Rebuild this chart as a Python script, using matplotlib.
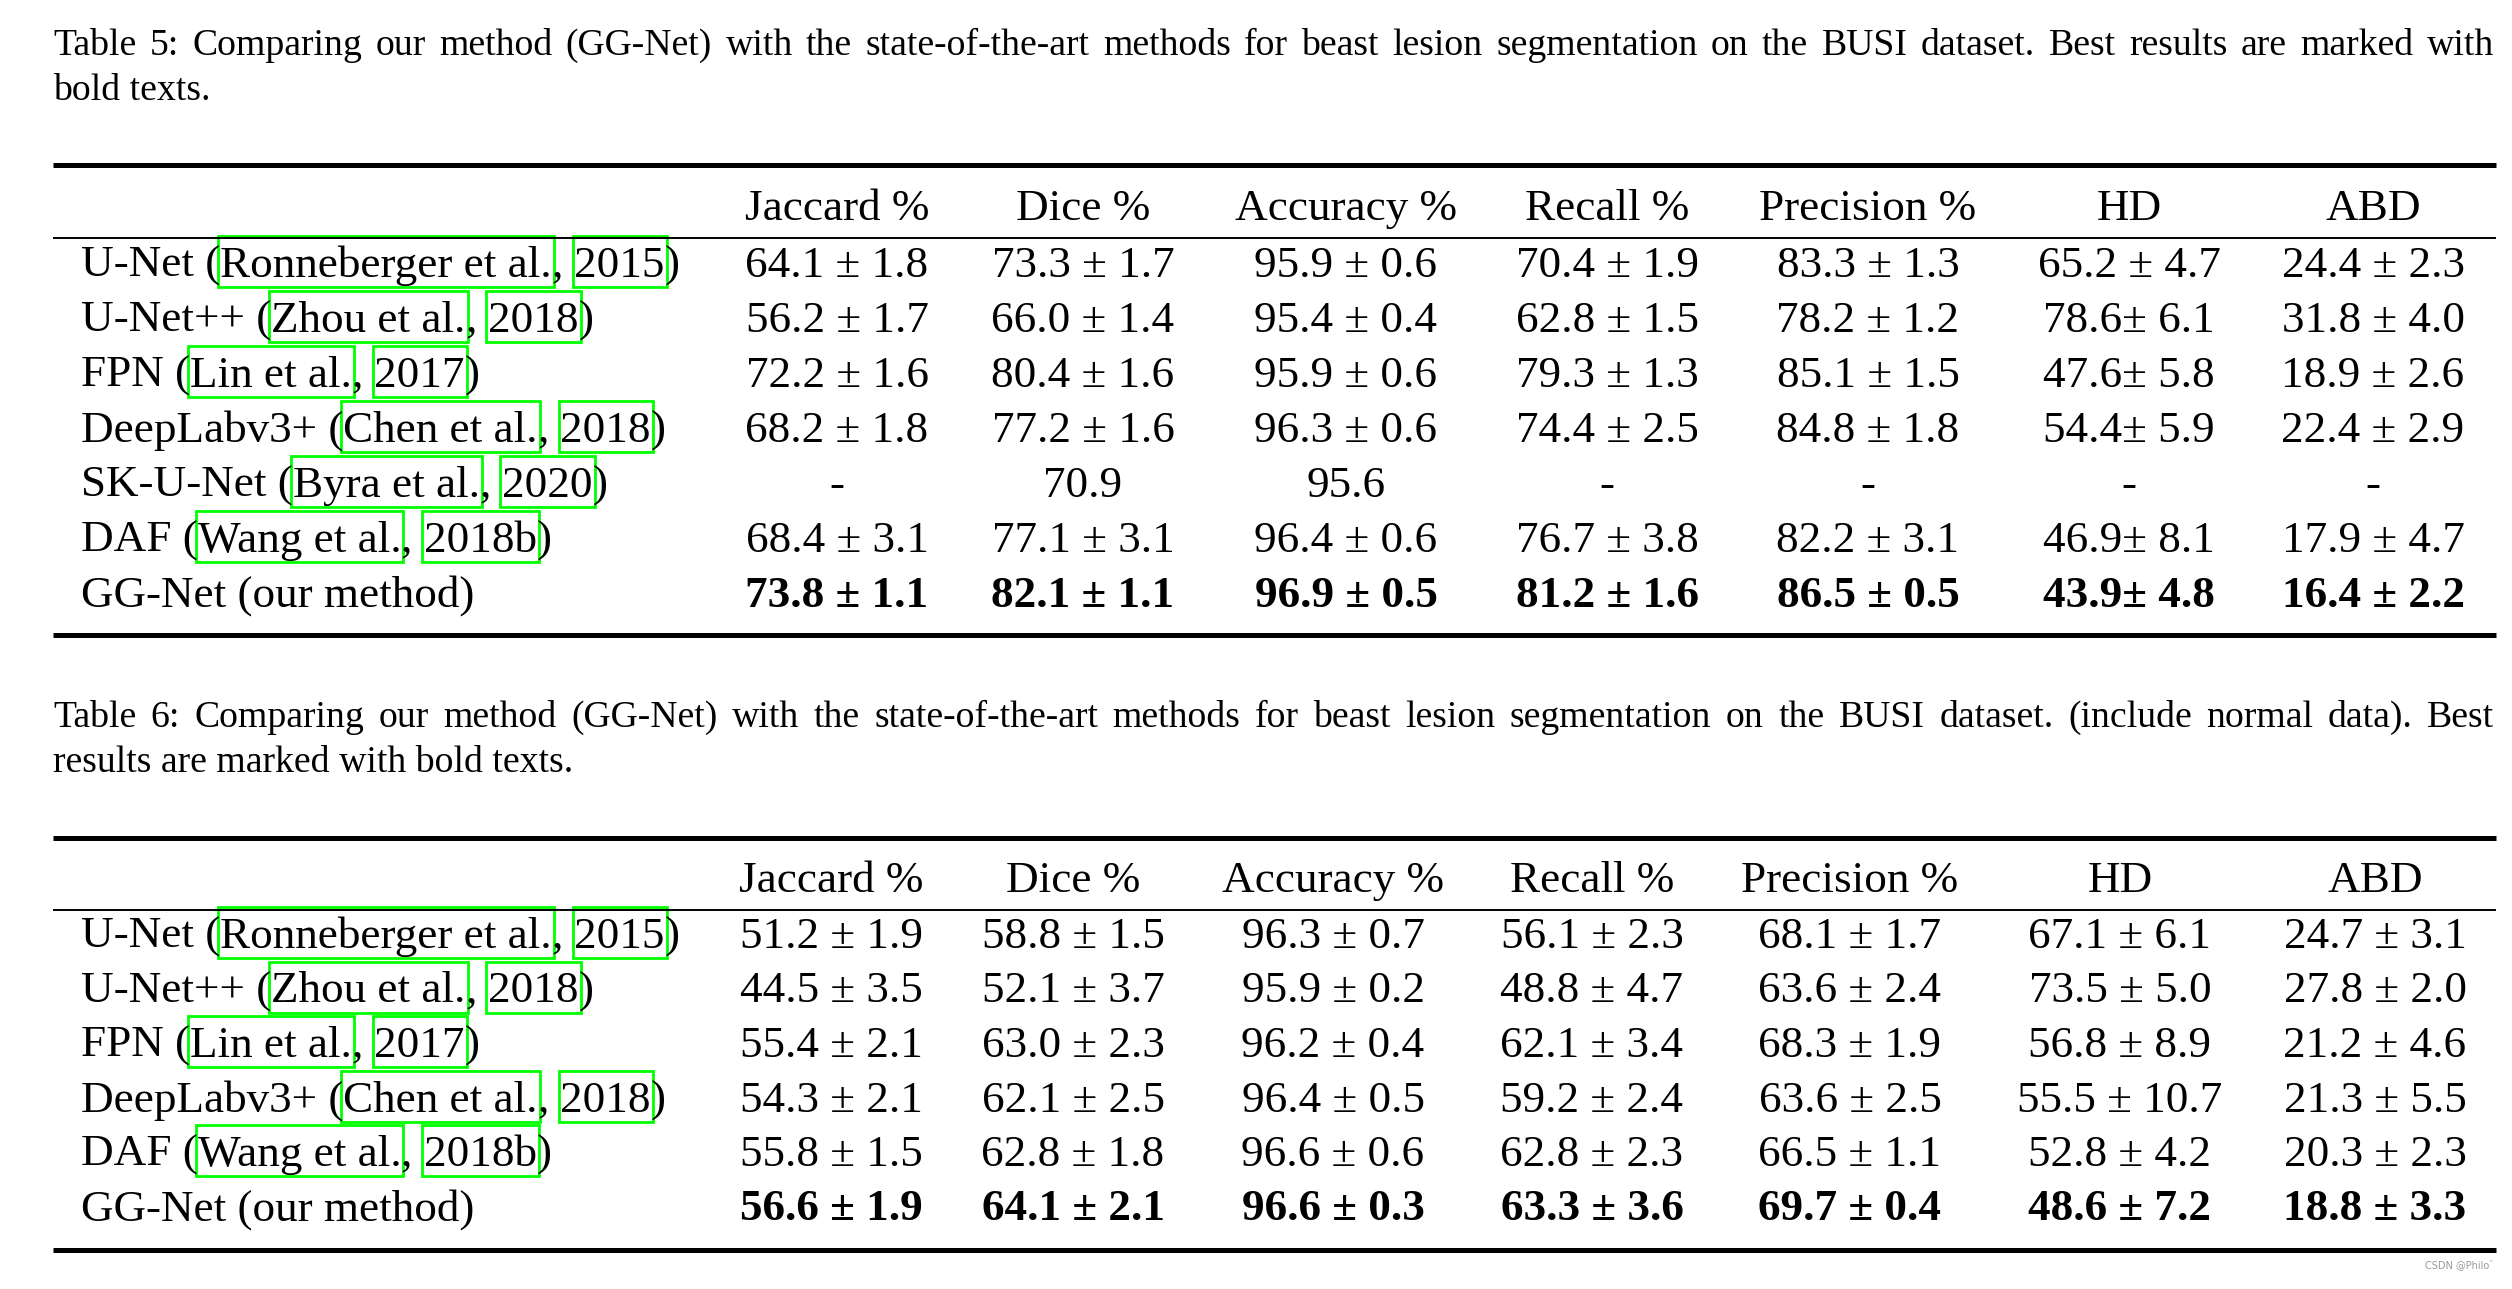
import matplotlib
matplotlib.use("Agg")
import matplotlib.pyplot as plt
from matplotlib.patches import Rectangle

plt.rcParams['font.family'] = 'Liberation Serif'

W, H = 2512, 1289
CAP_SIZE = 27.2
TAB_SIZE = 32.5
GREEN = '#00ff00'

# ---- data -------------------------------------------------------------
metrics = ['Jaccard %', 'Dice %', 'Accuracy %', 'Recall %', 'Precision %', 'HD', 'ABD']

caption5 = ["Table 5: Comparing our method (GG-Net) with the state-of-the-art methods for beast "
            "lesion segmentation on the BUSI dataset.  Best results are marked with",
            "bold texts."]
caption6 = ["Table 6: Comparing our method (GG-Net) with the state-of-the-art methods for beast "
            "lesion segmentation on the BUSI dataset.  (include normal data).  Best",
            "results are marked with bold texts."]

methods5 = ['U-Net', 'U-Net++', 'FPN', 'DeepLabv3+', 'SK-U-Net', 'DAF', 'GG-Net (our method)']
authors5 = ['Ronneberger et al.', 'Zhou et al.', 'Lin et al.', 'Chen et al.', 'Byra et al.', 'Wang et al.', None]
years5 = ['2015', '2018', '2017', '2018', '2020', '2018b', None]

jaccard5 = ['64.1 ± 1.8', '56.2 ± 1.7', '72.2 ± 1.6', '68.2 ± 1.8', '-', '68.4 ± 3.1', '73.8 ± 1.1']
dice5 = ['73.3 ± 1.7', '66.0 ± 1.4', '80.4 ± 1.6', '77.2 ± 1.6', '70.9', '77.1 ± 3.1', '82.1 ± 1.1']
accuracy5 = ['95.9 ± 0.6', '95.4 ± 0.4', '95.9 ± 0.6', '96.3 ± 0.6', '95.6', '96.4 ± 0.6', '96.9 ± 0.5']
recall5 = ['70.4 ± 1.9', '62.8 ± 1.5', '79.3 ± 1.3', '74.4 ± 2.5', '-', '76.7 ± 3.8', '81.2 ± 1.6']
precision5 = ['83.3 ± 1.3', '78.2 ± 1.2', '85.1 ± 1.5', '84.8 ± 1.8', '-', '82.2 ± 3.1', '86.5 ± 0.5']
hd5 = ['65.2 ± 4.7', '78.6± 6.1', '47.6± 5.8', '54.4± 5.9', '-', '46.9± 8.1', '43.9± 4.8']
abd5 = ['24.4 ± 2.3', '31.8 ± 4.0', '18.9 ± 2.6', '22.4 ± 2.9', '-', '17.9 ± 4.7', '16.4 ± 2.2']

methods6 = ['U-Net', 'U-Net++', 'FPN', 'DeepLabv3+', 'DAF', 'GG-Net (our method)']
authors6 = ['Ronneberger et al.', 'Zhou et al.', 'Lin et al.', 'Chen et al.', 'Wang et al.', None]
years6 = ['2015', '2018', '2017', '2018', '2018b', None]

jaccard6 = ['51.2 ± 1.9', '44.5 ± 3.5', '55.4 ± 2.1', '54.3 ± 2.1', '55.8 ± 1.5', '56.6 ± 1.9']
dice6 = ['58.8 ± 1.5', '52.1 ± 3.7', '63.0 ± 2.3', '62.1 ± 2.5', '62.8 ± 1.8', '64.1 ± 2.1']
accuracy6 = ['96.3 ± 0.7', '95.9 ± 0.2', '96.2 ± 0.4', '96.4 ± 0.5', '96.6 ± 0.6', '96.6 ± 0.3']
recall6 = ['56.1 ± 2.3', '48.8 ± 4.7', '62.1 ± 3.4', '59.2 ± 2.4', '62.8 ± 2.3', '63.3 ± 3.6']
precision6 = ['68.1 ± 1.7', '63.6 ± 2.4', '68.3 ± 1.9', '63.6 ± 2.5', '66.5 ± 1.1', '69.7 ± 0.4']
hd6 = ['67.1 ± 6.1', '73.5 ± 5.0', '56.8 ± 8.9', '55.5 ± 10.7', '52.8 ± 4.2', '48.6 ± 7.2']
abd6 = ['24.7 ± 3.1', '27.8 ± 2.0', '21.2 ± 4.6', '21.3 ± 5.5', '20.3 ± 2.3', '18.8 ± 3.3']

# ---- figure -----------------------------------------------------------
fig = plt.figure(figsize=(W / 100, H / 100), dpi=100)
ax = fig.add_axes([0, 0, 1, 1])
ax.set_xlim(0, W)
ax.set_ylim(H, 0)
ax.axis('off')
renderer = fig.canvas.get_renderer()

LEFT, RIGHT = 53, 2496


def width_of(t):
    return t.get_window_extent(renderer).width


# caption: first line justified over the full width, second line left
def caption(lines, y1, y2):
    words = lines[0].split()
    texts = [ax.text(0, y1, w, fontsize=CAP_SIZE, va='baseline') for w in words]
    widths = [width_of(t) for t in texts]
    gap = (RIGHT - 2 - LEFT - sum(widths)) / (len(words) - 1)
    x = LEFT
    for t, w in zip(texts, widths):
        t.set_x(x)
        x += w + gap
    ax.text(LEFT, y2, lines[1], fontsize=CAP_SIZE, va='baseline')


def put(x, y, s, **kw):
    t = ax.text(x, y, s, fontsize=TAB_SIZE, va='baseline', ha='left', **kw)
    return width_of(t)


def cite_box(x, y, w):
    em = TAB_SIZE * 100 / 72
    ax.add_patch(Rectangle((x - 2, y - 0.9 * em), w + 4, 1.13 * em,
                           fill=False, edgecolor=GREEN, lw=2))


def table(methods, authors, years, columns, col_x, rules, head_y, row_y, pitch):
    top, mid, bot = rules
    ax.plot([LEFT, RIGHT], [top, top], color='black', lw=3.6, solid_capstyle='butt')
    ax.plot([LEFT, RIGHT], [mid, mid], color='black', lw=1.4, solid_capstyle='butt')
    ax.plot([LEFT, RIGHT], [bot, bot], color='black', lw=3.6, solid_capstyle='butt')
    for name, cx in zip(metrics, col_x):
        ax.text(cx, head_y, name, fontsize=TAB_SIZE, ha='center', va='baseline')
    n = len(methods)
    for i in range(n):
        y = row_y + i * pitch
        x = 81
        if authors[i] is None:
            put(x, y, methods[i])
        else:
            x += put(x, y, methods[i] + ' (')
            w = put(x, y, authors[i])
            cite_box(x, y, w)
            x += w
            x += put(x, y, ', ')
            w = put(x, y, years[i])
            cite_box(x, y, w)
            x += w
            put(x, y, ')')
        weight = 'bold' if i == n - 1 else 'normal'
        for col, cx in zip(columns, col_x):
            ax.text(cx, y, col[i], fontsize=TAB_SIZE, ha='center', va='baseline',
                    fontweight=weight)


caption(caption5, 55, 100)
table(methods5, authors5, years5,
      [jaccard5, dice5, accuracy5, recall5, precision5, hd5, abd5],
      [837, 1083, 1346, 1607, 1868, 2129, 2373],
      (165, 238, 635), 220, 277, 55)

caption(caption6, 727, 772)
table(methods6, authors6, years6,
      [jaccard6, dice6, accuracy6, recall6, precision6, hd6, abd6],
      [831, 1073, 1333, 1592, 1850, 2120, 2375],
      (838, 910, 1250), 892, 948, 54.5)

ax.text(2494, 1268, 'CSDN @Philo`', fontsize=7, color='#999999', ha='right',
        va='baseline', family='DejaVu Sans')

fig.savefig('out.png', dpi=100)
